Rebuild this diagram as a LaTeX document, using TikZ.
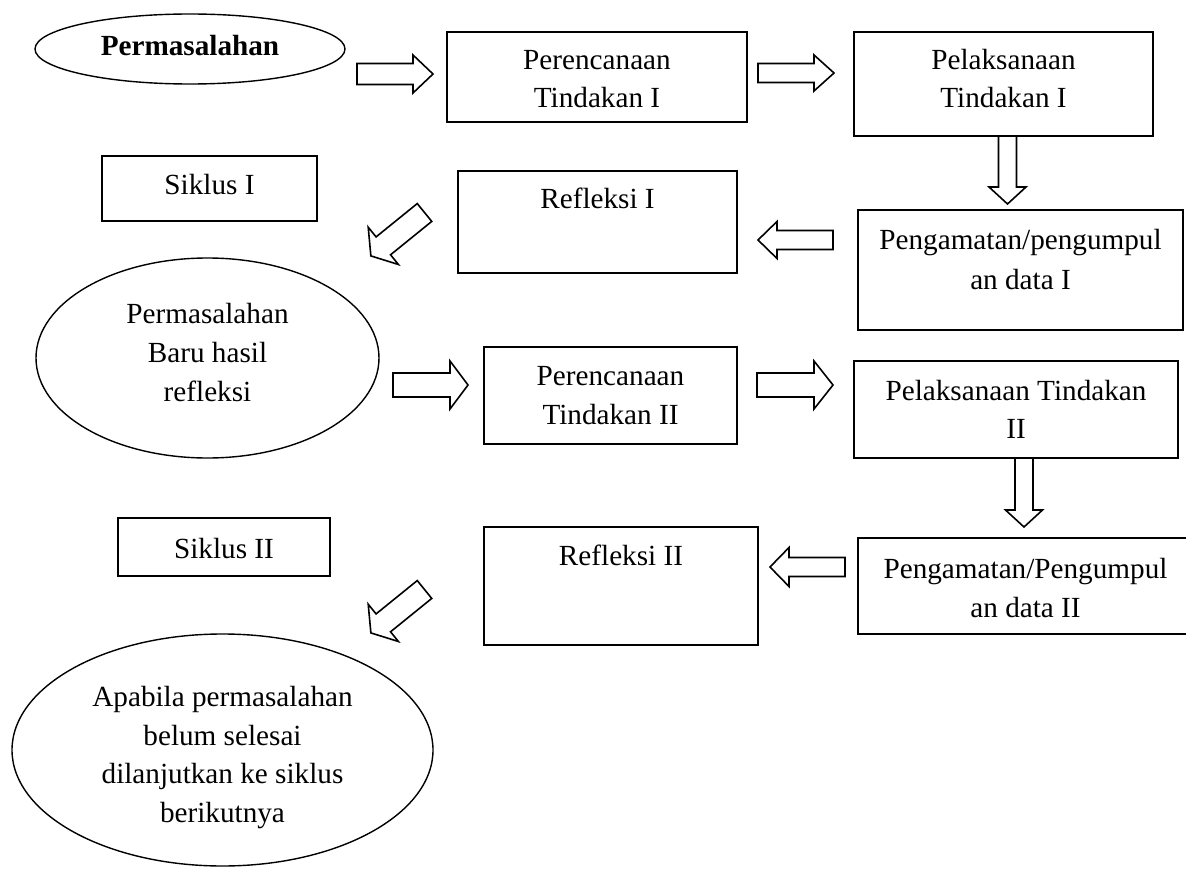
\documentclass[tikz,border=0pt]{standalone}
\usepackage{fontspec}
\setmainfont{Liberation Serif}
\usetikzlibrary{shapes.geometric}
\newcommand{\barw}[6]{%
  \begin{scope}[shift={#1}, rotate=#2]
    \draw[barrow] (0,-#5) -- (#3-#4,-#5) -- (#3-#4,-#6) -- (#3,0) -- (#3-#4,#6) -- (#3-#4,#5) -- (0,#5) -- cycle;
  \end{scope}}
\begin{document}
\begin{tikzpicture}[x=1pt,y=-1pt,
  box/.style={draw, line width=1.8pt, inner sep=0pt},
  oval/.style={draw, ellipse, line width=1.4pt, inner sep=0pt},
  lbl/.style={font=\fontsize{29.2}{38.5}\selectfont, anchor=base, inner sep=0pt},
  barrow/.style={draw, line width=1.6pt, line join=miter, fill=white}]
\clip (0,0) rectangle (1186,869);
\fill[white] (0,0) rectangle (1186,869);

% ellipses
\node[oval, minimum width=310pt, minimum height=70pt] (e1) at (190,49) {};
\node[oval, minimum width=343pt, minimum height=200pt] (e2) at (207.5,358) {};
\node[oval, minimum width=421pt, minimum height=232pt] (e3) at (222.5,750) {};

% boxes
\node[box, minimum width=300pt, minimum height=90pt]  (p1) at (597,77) {};
\node[box, minimum width=299pt, minimum height=104pt] (l1) at (1003.5,84) {};
\node[box, minimum width=215pt, minimum height=65pt]  (s1) at (209.5,188.5) {};
\node[box, minimum width=279pt, minimum height=102pt] (r1) at (597.5,222) {};
\node[box, minimum width=325pt, minimum height=120pt] (g1) at (1020.5,270) {};
\node[box, minimum width=253pt, minimum height=97pt]  (p2) at (610.5,395.5) {};
\node[box, minimum width=324pt, minimum height=97pt]  (l2) at (1016,409.5) {};
\node[box, minimum width=212pt, minimum height=58pt]  (s2) at (224,547) {};
\node[box, minimum width=274pt, minimum height=118pt] (r2) at (621,586) {};
\node[box, minimum width=335pt, minimum height=96pt]  (g2) at (1025.5,586) {};

% texts
\node[lbl, font=\fontsize{29.2}{38.5}\selectfont\bfseries] (e1t) at (190,56) {Permasalahan};
\node[lbl] (p1a) at (597,70) {Perencanaan};
\node[lbl] (p1b) at (597,108) {Tindakan I};
\node[lbl] (l1a) at (1003.5,70) {Pelaksanaan};
\node[lbl] (l1b) at (1003.5,108) {Tindakan I};
\node[lbl] (s1t) at (209.5,195) {Siklus I};
\node[lbl] (r1t) at (597.5,209) {Refleksi I};
\node[lbl] (g1a) at (1020.5,250) {Pengamatan/pengumpul};
\node[lbl] (g1b) at (1020.5,289) {an data I};
\node[lbl] (e2a) at (207.5,323) {Permasalahan};
\node[lbl] (e2b) at (207.5,362) {Baru hasil};
\node[lbl] (e2c) at (207.5,401) {refleksi};
\node[lbl] (p2a) at (610.5,385) {Perencanaan};
\node[lbl] (p2b) at (610.5,424) {Tindakan II};
\node[lbl] (l2a) at (1016,400) {Pelaksanaan Tindakan};
\node[lbl] (l2b) at (1016,438) {II};
\node[lbl] (s2t) at (224,558) {Siklus II};
\node[lbl] (r2t) at (621,565) {Refleksi II};
\node[lbl] (g2a) at (1025.5,578) {Pengamatan/Pengumpul};
\node[lbl] (g2b) at (1025.5,617) {an data II};
\node[lbl] (e3a) at (222.5,706) {Apabila permasalahan};
\node[lbl] (e3b) at (222.5,745) {belum selesai};
\node[lbl] (e3c) at (222.5,783) {dilanjutkan ke siklus};
\node[lbl] (e3d) at (222.5,822) {berikutnya};

% block arrows: tail, angle, length, head length, shaft half width, head half width
\barw{(357,74)}{0}{76}{20}{10.5}{19}
\barw{(758,73)}{0}{76}{20}{9.5}{18}
\barw{(1007.5,136)}{-90}{68}{17}{9}{18.5}
\barw{(833,240)}{180}{75}{19}{9.5}{18.5}
\barw{(424.5,212.5)}{219}{69}{16}{11.5}{24}
\barw{(393,385)}{0}{75}{18}{12}{24}
\barw{(757,385)}{0}{76}{19}{12}{24}
\barw{(1024,458)}{-90}{69}{17}{9}{18.5}
\barw{(845,567)}{180}{75}{19}{9.5}{19.5}
\barw{(424.5,589.5)}{219}{69}{16}{11.5}{24}
\end{tikzpicture}
\end{document}
